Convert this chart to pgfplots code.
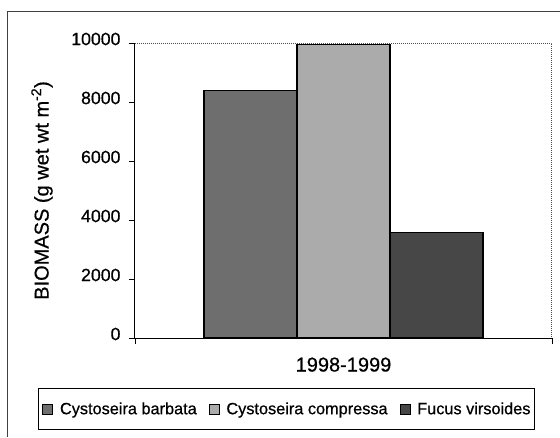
\documentclass[border=0pt]{standalone}
\usepackage{pgfplots}
\pgfplotsset{compat=1.18}
\usepackage{fontspec}
\setmainfont{Liberation Sans}[FakeBold=0.6]
\definecolor{cbarb}{HTML}{6E6E6E}
\definecolor{ccomp}{HTML}{ABABAB}
\definecolor{fucus}{HTML}{474747}
\newcommand{\chfont}{\fontsize{16.3}{19}\selectfont}
\newcommand{\tkfont}{\fontsize{17.7}{20}\selectfont}
\newcommand{\lbfont}{\fontsize{20}{24}\selectfont}
\begin{document}
\begin{tikzpicture}[x=1pt,y=1pt]
\useasboundingbox (-135,-99) rectangle (425,338);
\draw[line width=0.8pt, black!75] (-128,-99) -- (-128,327) -- (425,327);
\begin{axis}[
  at={(0,0)}, anchor=south west,
  scale only axis, width=417pt, height=295pt,
  ybar=0pt, bar width=93pt,
  xmin=-1, xmax=1, ymin=0, ymax=10000,
  xtick={0}, xticklabels={1998-1999},
  minor xtick={-1,1},
  ytick={0,2000,4000,6000,8000,10000},
  scaled y ticks=false,
  /pgf/number format/1000 sep={},
  /pgf/number format/assume math mode=true,
  axis x line*=bottom, axis y line*=left,
  axis line style={-, line width=1pt, black},
  tick align=outside,
  major tick length=6pt, minor tick length=6pt,
  major x tick style={draw=none},
  tick style={black, line width=0.8pt},
  yticklabel style={font=\tkfont, xshift=-5pt, yshift=4pt},
  xticklabel style={font=\lbfont, yshift=-10pt},
  legend style={
    at={(axis description cs:-0.2326,-0.1695)}, anchor=north west,
    draw=black, line width=0.8pt,
    font=\chfont,
    legend columns=3,
    inner xsep=4pt, inner ysep=14pt,
    nodes={inner sep=0pt},
    /tikz/every odd column/.append style={column sep=7pt},
    /tikz/every even column/.append style={column sep=12pt},
  },
  legend image code/.code={\draw[#1, line width=0.6pt] (0pt,-5pt) rectangle (10pt,5pt);},
]
\addplot[fill=cbarb, draw=black, line width=1.2pt] coordinates {(0,8400)};
\addplot[fill=ccomp, draw=black, line width=1.2pt] coordinates {(0,9950)};
\addplot[fill=fucus, draw=black, line width=1.2pt] coordinates {(0,3570)};
\legend{Cystoseira barbata, Cystoseira compressa, Fucus virsoides}
\draw[densely dotted, line width=1pt, black!70] (rel axis cs:0,1) -- (rel axis cs:1,1) -- (rel axis cs:1,0);
\end{axis}
\node[rotate=90, font=\lbfont] at (-93,147.5) {BIOMASS (g wet wt m\textsuperscript{-2})};
\end{tikzpicture}
\end{document}
